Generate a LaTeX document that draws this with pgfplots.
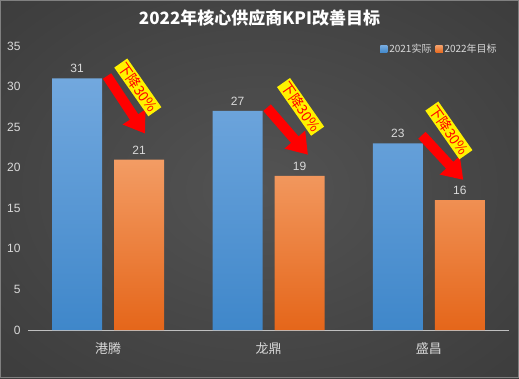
\documentclass[border=0pt]{standalone}
\usepackage{pgfplots}
\pgfplotsset{compat=1.18}
\usepackage{fontspec}
\setmainfont{Liberation Sans}
\newfontfamily\cjk{Noto Sans CJK SC}
\usetikzlibrary{arrows.meta}
\definecolor{bgA}{HTML}{535353}
\definecolor{bgB}{HTML}{404040}
\definecolor{bgC}{HTML}{282828}
\pgfdeclareradialshading{bgshade}{\pgfpoint{0bp}{0bp}}{color(0bp)=(bgA); color(30bp)=(bgB); color(71bp)=(bgC)}
\definecolor{lbl}{HTML}{D9D9D9}
\definecolor{axisc}{HTML}{BFBFBF}
\definecolor{blueT}{HTML}{72A8DE}
\definecolor{blueB}{HTML}{3F87CA}
\definecolor{orT}{HTML}{F39C64}
\definecolor{orB}{HTML}{E5661A}
\begin{document}
\begin{tikzpicture}
\useasboundingbox (0,0) rectangle (519pt,378pt);
\shade[shading=bgshade] (0,0) rectangle (519pt,378pt);
\draw[color=gray, line width=1pt] (0.5pt,0.5pt) rectangle (518.5pt,377.5pt);
\node[text=white, font=\cjk\bfseries\fontsize{17}{20}\selectfont] at (259.5pt,360pt) {2022年核心供应商KPI改善目标};
\begin{axis}[
  at={(28pt,48pt)}, anchor=south west,
  scale only axis, width=481pt, height=284pt,
  xmin=-0.5, xmax=2.5, ymin=0, ymax=35,
  clip=false,
  axis x line*=bottom, axis y line*=left,
  y axis line style={draw=none},
  x axis line style={draw=axisc, line width=1pt},
  major tick length=0pt, tick style={draw=none},
  ytick={0,5,...,35},
  yticklabel style={text=lbl, font=\fontsize{12}{14}\selectfont, xshift=-4pt},
  xtick={0,1,2}, xticklabels={港腾,龙鼎,盛昌},
  xticklabel style={text=lbl, font=\cjk\fontsize{13}{15}\selectfont, yshift=-9pt},
  /pgf/number format/assume math mode=true,
  ybar=12pt, bar width=50pt,
  nodes near coords,
  nodes near coords style={text=lbl, font=\fontsize{12}{14}\selectfont, anchor=south, yshift=2pt},
  legend columns=2,
  legend style={at={(0.979,0.988)}, anchor=east, draw=none, fill=none, inner sep=0pt,
    font=\cjk\fontsize{10}{12}\selectfont, text=lbl,
    /tikz/every even column/.append style={column sep=2pt}},
]
\addplot[draw=none, top color=blueT, bottom color=blueB,
  legend image code/.code={\fill[blueB!80!blueT] (0pt,-3.5pt) rectangle (7pt,3.5pt);}]
  coordinates {(0,31) (1,27) (2,23)};
\addplot[draw=none, top color=orT, bottom color=orB,
  legend image code/.code={\fill[orB!70!orT] (0pt,-3.5pt) rectangle (7pt,3.5pt);}]
  coordinates {(0,21) (1,19) (2,16)};
\legend{2021实际,2022年目标}
\draw[red, line width=10pt, -{Triangle[width=26pt,length=20pt]}] (axis cs:-0.007,31.3) -- (axis cs:0.23,24.2);
\draw[red, line width=10pt, -{Triangle[width=26pt,length=20pt]}] (axis cs:0.991,27.4) -- (axis cs:1.246,21.6);
\draw[red, line width=10pt, -{Triangle[width=26pt,length=20pt]}] (axis cs:1.957,24.0) -- (axis cs:2.215,18.5);
\node[fill=yellow, text=red, rotate=-55, inner sep=1.5pt, font=\cjk\fontsize{14}{14}\selectfont] at (axis cs:0.185,29.9) {下降30\%};
\node[fill=yellow, text=red, rotate=-55, inner sep=1.5pt, font=\cjk\fontsize{14}{14}\selectfont] at (axis cs:1.2,27.5) {下降30\%};
\node[fill=yellow, text=red, rotate=-55, inner sep=1.5pt, font=\cjk\fontsize{14}{14}\selectfont] at (axis cs:2.125,24.6) {下降30\%};
\end{axis}
\end{tikzpicture}
\end{document}
